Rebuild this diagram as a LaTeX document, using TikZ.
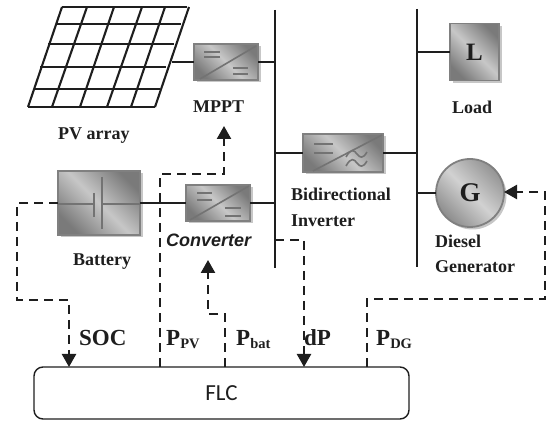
\documentclass[tikz,border=0pt]{standalone}
\usepackage{fontspec}
\setmainfont{Liberation Serif}
\newfontfamily\labsans{Liberation Sans}
\newfontfamily\flcfont{Carlito}
\usetikzlibrary{arrows.meta,shadows}
\definecolor{ink}{HTML}{1E1E1E}
\tikzset{
  wire/.style={draw=ink,line width=1.6pt},
  pvgrid/.style={draw=ink,line width=2.1pt},
  ctrl/.style={draw=ink,line width=2.4pt,dash pattern=on 9pt off 6pt,-{Triangle[width=14pt,length=13pt]}},
  unit/.style={rectangle,draw=black!50,line width=1.8pt,inner sep=0pt,outer sep=0pt,
    top color=black!52,bottom color=black!52,middle color=black!22,shading angle=-45,
    drop shadow={shadow xshift=2.5pt,shadow yshift=-2.5pt,fill=black!22,opacity=1}},
  gen/.style={circle,draw=black!50,line width=1.8pt,inner sep=0pt,outer sep=0pt,
    top color=black!42,bottom color=black!45,middle color=black!18,shading angle=-45,
    drop shadow={shadow xshift=2.5pt,shadow yshift=-2.5pt,fill=black!22,opacity=1}},
  glyph/.style={draw=black!55,line width=1.6pt},
  lab/.style={anchor=base west,inner sep=0pt,text=ink,font=\fontsize{18}{18}\selectfont\bfseries},
  big/.style={anchor=base west,inner sep=0pt,text=ink,font=\fontsize{23}{23}\selectfont\bfseries},
}
\newcommand{\subl}[1]{{\fontsize{14.5}{14.5}\selectfont\raisebox{-3pt}{#1}}}
\begin{document}
\begin{tikzpicture}[x=1pt,y=-1pt]
\useasboundingbox (0,0) rectangle (547,422);
% PV array
\foreach \xa/\xb/\ya in {62/187/7,56/181/24,48/174/44,40/166/67,34/160/89,28/155/107}
  \draw[pvgrid] (\xa,\ya) -- (\xb,\ya);
\foreach \xa/\xb in {62/28,87/52,114/80,142/107,165/131,189/155}
  \draw[pvgrid] (\xa,7) -- (\xb,107);
% coordinates
\coordinate (pvout) at (172,62);
\coordinate (busat) at (275,10);
\coordinate (busab) at (275,268);
\coordinate (busbt) at (417,9);
\coordinate (busbb) at (417,267);
% units
\node[unit,minimum width=64pt,minimum height=36pt] (mppt) at (226,62) {};
\node[unit,minimum width=80pt,minimum height=38pt] (inv) at (343,153) {};
\node[unit,minimum width=82pt,minimum height=64pt] (bat) at (99,203) {};
\node[unit,minimum width=64pt,minimum height=36pt] (conv) at (218,203) {};
\node[unit,minimum width=49pt,minimum height=57pt,text=ink,font=\fontsize{25}{25}\selectfont\bfseries] (load) at (474.5,52) {L};
\node[gen,minimum size=68pt,text=ink,font=\fontsize{27}{27}\selectfont\bfseries] (dg) at (470,193) {G};
\node[draw=ink,line width=1.4pt,rounded corners=9pt,minimum width=375pt,minimum height=52pt,inner sep=0pt,outer sep=0pt,
  font=\flcfont\fontsize{23}{23}\selectfont,text=ink] (flc) at (221.5,393) {FLC};
% buses and wires
\draw[wire] (busat) -- (busab);
\draw[wire] (busbt) -- (busbb);
\draw[wire] (pvout) -- (mppt.west);
\draw[wire] (mppt.east) -- (mppt.east -| busat);
\draw[wire] (inv.west) -- (inv.west -| busat);
\draw[wire] (inv.east) -- (inv.east -| busbt);
\draw[wire] (load.west) -- (load.west -| busbt);
\draw[wire] (dg.west) -- (dg.west -| busbt);
\draw[wire] (bat.east) -- (conv.west);
\draw[wire] (conv.east) -- (conv.east -| busat);
% unit glyphs
\draw[glyph] (200,79) -- (256,46);
\draw[glyph] (204,52) -- (220,52) (204,57) -- (220,57) (233,68) -- (248,68) (233,74) -- (248,74);
\draw[glyph] (190,220) -- (249,186);
\draw[glyph] (197,193) -- (212,193) (197,200) -- (212,200) (225,208) -- (241,208) (225,216) -- (241,216);
\draw[glyph] (313,171) -- (382,135);
\draw[glyph] (314,144) -- (333,144) (314,153) -- (333,153);
\draw[glyph] (346,157) .. controls (351,148) and (354,150) .. (357,154) .. controls (360,158) and (363,159) .. (367,152);
\draw[glyph] (346,166) .. controls (351,157) and (354,159) .. (357,163) .. controls (360,167) and (363,168) .. (367,161);
\draw[glyph] (58,204) -- (94,204) (94,193) -- (94,217) (102,177) -- (102,229) (102,204) -- (140,204);
% control lines
\coordinate (socend) at (69,367);
\coordinate (ppvstart) at (160,367);
\coordinate (pbatstart) at (225,367);
\coordinate (dpend) at (304,367);
\coordinate (pdgstart) at (367,367);
\coordinate (mpptin) at (224,126);
\coordinate (convin) at (208,260);
\coordinate (dgin) at (504,192);
\draw[ctrl] (bat.west) -- (17,203) -- (17,300) -- (69,300) -- (socend);
\draw[ctrl] (ppvstart) -- (160,174) -- (224,174) -- (mpptin);
\draw[ctrl] (pbatstart) -- (225,314) -- (208,314) -- (convin);
\draw[ctrl] (275,240) -- (304,240) -- (dpend);
\draw[ctrl] (pdgstart) -- (367,299) -- (545,299) -- (545,192) -- (dgin);
% labels
\node[lab] (tpv) at (58,140) {PV array};
\node[lab] (tmppt) at (193,113) {MPPT};
\node[lab] (tload) at (452,114) {Load};
\node[lab] (tbi) at (291,201) {Bidirectional};
\node[lab] (tinv) at (291,227) {Inverter};
\node[lab] (tdi) at (435,248) {Diesel};
\node[lab] (tgen) at (435,273) {Generator};
\node[lab] (tbat) at (73,266) {Battery};
\node[lab,font=\labsans\fontsize{18}{18}\selectfont\bfseries\itshape] (tconv) at (166,247) {Converter};
\node[big] (tsoc) at (79,346) {SOC};
\node[big] (tppv) at (166,346) {P\subl{PV}};
\node[big] (tpbat) at (236,346) {P\subl{bat}};
\node[big] (tdp) at (304,346) {dP};
\node[big] (tpdg) at (376,346) {P\subl{DG}};
\end{tikzpicture}
\end{document}
